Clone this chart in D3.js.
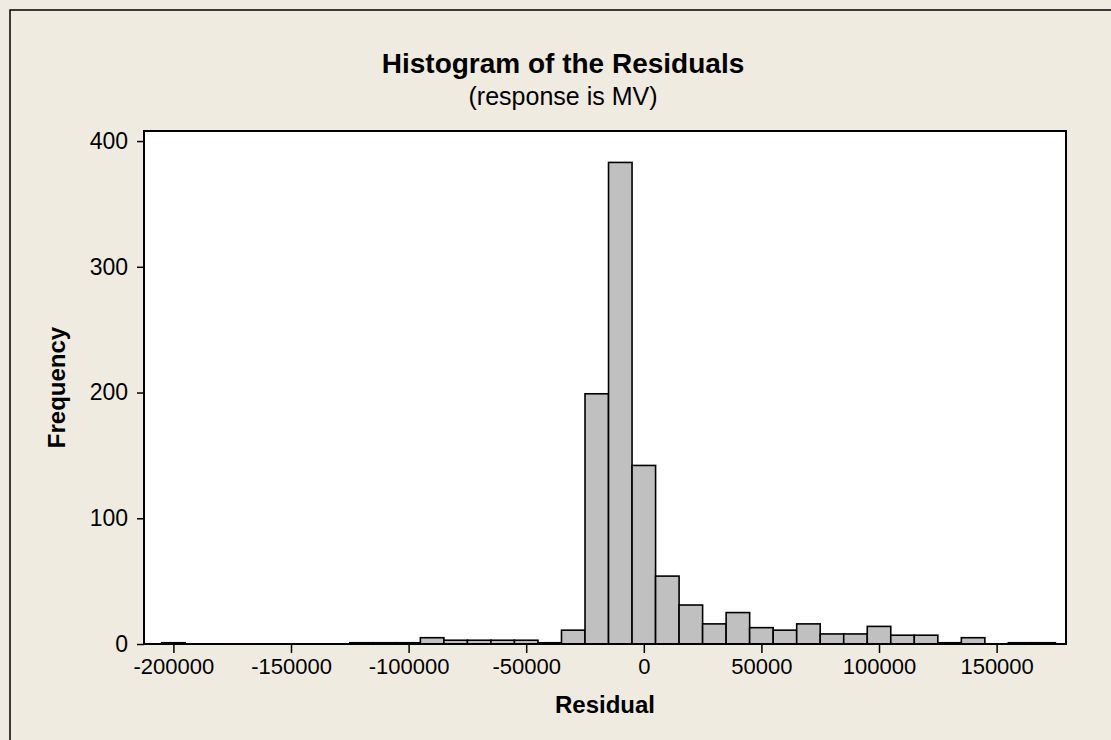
<!DOCTYPE html>
<html>
<head>
<meta charset="utf-8">
<script src="https://cdn.jsdelivr.net/npm/d3@7"></script>
<style>
  body { margin: 0; background: #efebe1; }
  svg { display: block; font-family: "Liberation Sans", Arial, sans-serif; }
  .axis path { display: none; }
  .axis line { stroke: #000; stroke-width: 1.5; }
  .axis text { fill: #000; font-size: 22px; }
</style>
</head>
<body>
<svg id="chart" width="1111" height="740"></svg>
<script>
// Bin midpoints (bin width 10000) and frequency counts
const binWidth = 10000;
const binCenters = [
  -200000, -190000, -180000, -170000, -160000, -150000, -140000, -130000,
  -120000, -110000, -100000, -90000, -80000, -70000, -60000, -50000,
  -40000, -30000, -20000, -10000, 0, 10000, 20000, 30000, 40000, 50000,
  60000, 70000, 80000, 90000, 100000, 110000, 120000, 130000, 140000,
  150000, 160000, 170000
];
const counts = [
  1, 0, 0, 0, 0, 0, 0, 0,
  1, 1, 1, 5, 3, 3, 3, 3,
  1, 11, 199, 383, 142, 54, 31, 16, 25, 13,
  11, 16, 8, 8, 14, 7, 7, 1, 5,
  0, 1, 1
];
const xTicks = [-200000, -150000, -100000, -50000, 0, 50000, 100000, 150000];
const yTicks = [0, 100, 200, 300, 400];

const title = "Histogram of the Residuals";
const subtitle = "(response is MV)";
const xLabel = "Residual";
const yLabel = "Frequency";

const bins = binCenters.map((c, i) => ({ center: c, count: counts[i] }));

const svg = d3.select("#chart");

// plot region
const PLOT = { left: 144, right: 1066, top: 131, bottom: 644 };

const x = d3.scaleLinear()
  .domain([-212500, 179500])
  .range([PLOT.left, PLOT.right]);

const y = d3.scaleLinear()
  .domain([0, 408])
  .range([PLOT.bottom, PLOT.top]);

// outer figure frame (runs off the right/bottom of the picture)
svg.append("rect")
  .attr("x", 10).attr("y", 10)
  .attr("width", 1130).attr("height", 760)
  .attr("fill", "#efebe1")
  .attr("stroke", "#000")
  .attr("stroke-width", 1.5);

// data region
svg.append("rect")
  .attr("x", PLOT.left).attr("y", PLOT.top)
  .attr("width", PLOT.right - PLOT.left)
  .attr("height", PLOT.bottom - PLOT.top)
  .attr("fill", "#fff");

// bars
svg.append("g")
  .selectAll("rect")
  .data(bins.filter(d => d.count > 0))
  .join("rect")
  .attr("x", d => x(d.center - binWidth / 2))
  .attr("y", d => y(d.count))
  .attr("width", d => x(d.center + binWidth / 2) - x(d.center - binWidth / 2))
  .attr("height", d => y(0) - y(d.count))
  .attr("fill", "#c0c0c0")
  .attr("stroke", "#000")
  .attr("stroke-width", 1.6);

// plot frame
svg.append("rect")
  .attr("x", PLOT.left).attr("y", PLOT.top)
  .attr("width", PLOT.right - PLOT.left)
  .attr("height", PLOT.bottom - PLOT.top)
  .attr("fill", "none")
  .attr("stroke", "#000")
  .attr("stroke-width", 2);

// axes
svg.append("g")
  .attr("class", "axis")
  .attr("transform", `translate(0,${PLOT.bottom})`)
  .call(d3.axisBottom(x).tickValues(xTicks).tickSize(9).tickPadding(5)
    .tickFormat(d => String(d)))
  .selectAll("text").attr("dy", "0.71em");

svg.append("g")
  .attr("class", "axis")
  .attr("transform", `translate(${PLOT.left},0)`)
  .call(d3.axisLeft(y).tickValues(yTicks).tickSize(7).tickPadding(9)
    .tickFormat(d => String(d)))
  .selectAll("text").style("font-size", "23px");

// titles
svg.append("text")
  .attr("x", 563).attr("y", 73)
  .attr("text-anchor", "middle")
  .attr("font-size", 28).attr("font-weight", "bold")
  .text(title);

svg.append("text")
  .attr("x", 563).attr("y", 105)
  .attr("text-anchor", "middle")
  .attr("font-size", 25)
  .text(subtitle);

svg.append("text")
  .attr("x", (PLOT.left + PLOT.right) / 2).attr("y", 713)
  .attr("text-anchor", "middle")
  .attr("font-size", 24).attr("font-weight", "bold")
  .text(xLabel);

svg.append("text")
  .attr("transform", `translate(65,${(PLOT.top + PLOT.bottom) / 2}) rotate(-90)`)
  .attr("text-anchor", "middle")
  .attr("font-size", 24).attr("font-weight", "bold")
  .text(yLabel);
</script>
</body>
</html>
